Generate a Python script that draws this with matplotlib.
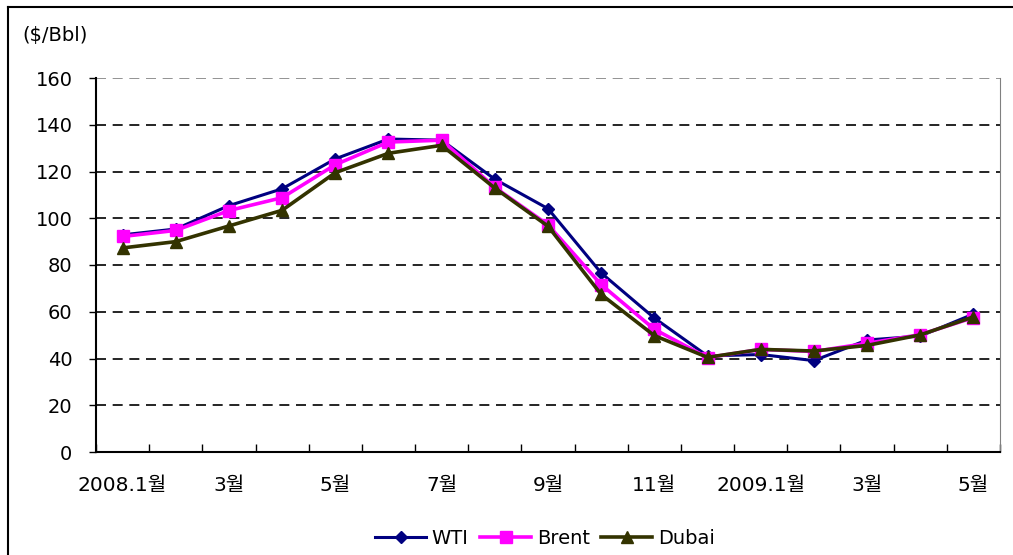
import matplotlib
matplotlib.use('Agg')
from matplotlib import pyplot as plt
from matplotlib.lines import Line2D
import numpy as np

plt.rcParams['font.family'] = ['DejaVu Sans', 'Noto Sans CJK KR']

# monthly average prices, 2008.1 ~ 2009.5
months = ['2008.1월', '2월', '3월', '4월', '5월', '6월', '7월', '8월', '9월', '10월', '11월', '12월',
          '2009.1월', '2월', '3월', '4월', '5월']
wti = [92.9, 95.4, 105.4, 112.6, 125.4, 133.9, 133.4, 116.7, 104.1, 76.6, 57.3, 41.1,
       41.7, 39.1, 47.9, 49.6, 59.0]
brent = [92.2, 94.8, 103.3, 108.8, 122.9, 132.6, 133.4, 113.2, 97.2, 71.6, 52.5, 40.4,
         43.9, 43.0, 46.5, 50.2, 57.5]
dubai = [87.3, 90.0, 96.7, 103.4, 119.5, 127.8, 131.2, 112.9, 96.6, 67.4, 49.8, 40.5,
         43.9, 43.2, 45.6, 50.1, 57.8]
yticks = [0, 20, 40, 60, 80, 100, 120, 140, 160]

fig = plt.figure(figsize=(10.13, 5.55), dpi=100)
ax = fig.add_axes([96 / 1013, 103 / 555, 904 / 1013, 374 / 555])

x = np.arange(len(months))
ax.plot(x, wti, color='#000080', marker='D', markersize=6.5, lw=2.2, label='WTI', zorder=3)
ax.plot(x, brent, color='#FF00FF', marker='s', markersize=8, lw=2.6, label='Brent', zorder=4)
ax.plot(x, dubai, color='#333300', marker='^', markersize=8.5, lw=2.6, label='Dubai', zorder=5)

ax.set_xlim(-0.5, len(months) - 0.5)
ax.set_ylim(0, 160)
ax.set_yticks(yticks)
ax.set_yticklabels([str(v) for v in yticks], fontsize=14)

# horizontal dashed grid
for v in yticks[1:]:
    ax.axhline(v, color='#808080' if v == 160 else 'black', lw=1.2,
               linestyle=(0, (6, 4)), zorder=1)

# category boundaries as inward ticks, labels every other month
ax.set_xticks(np.arange(-0.5, len(months), 1.0), minor=False)
ax.set_xticklabels([])
ax.tick_params(axis='x', direction='in', length=6, width=1)
ax.set_xticks(x[::2], minor=True)
ax.set_xticklabels(months[::2], minor=True, fontsize=14.5)
ax.tick_params(axis='x', which='minor', length=0, pad=17)
ax.tick_params(axis='y', direction='out', length=5, width=1, pad=12)

ax.spines['top'].set_visible(False)
ax.spines['right'].set_color('#808080')
ax.spines['left'].set_linewidth(1.5)
ax.spines['bottom'].set_linewidth(1.5)

fig.text(22 / 1013, 1 - 35 / 555, '($/Bbl)', fontsize=14, va='center', ha='left')

fig.legend(loc='center', bbox_to_anchor=(545 / 1013, 1 - 538 / 555), ncol=3, frameon=False,
           fontsize=14, handlelength=2.6, columnspacing=0.6, handletextpad=0.3)

# outer chart frame
fig.add_artist(Line2D([8 / 1013, 8 / 1013], [0, 1 - 7 / 555], color='black', lw=1.5,
                      transform=fig.transFigure))
fig.add_artist(Line2D([8 / 1013, 1], [1 - 7 / 555, 1 - 7 / 555], color='black', lw=1.5,
                      transform=fig.transFigure))

fig.savefig('out.png', dpi=100)
